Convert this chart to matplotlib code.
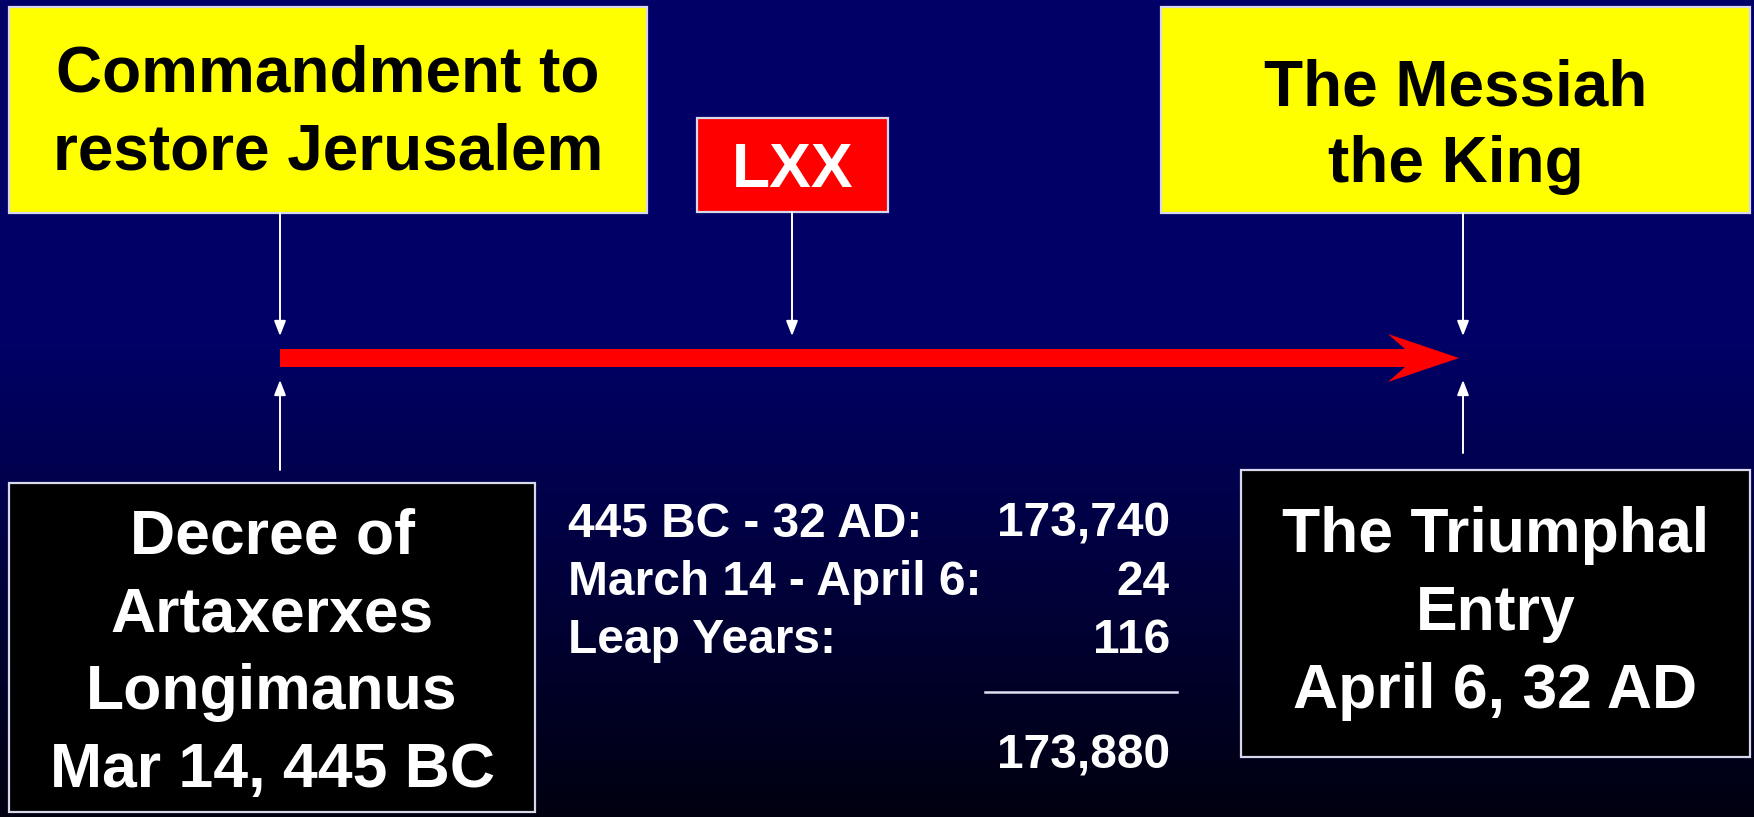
import matplotlib.pyplot as plt
import numpy as np
from matplotlib.patches import Rectangle, Polygon

# slide text
top_left_lines = ['Commandment to', 'restore Jerusalem']
top_mid_lines = ['LXX']
top_right_lines = ['The Messiah', 'the King']
bottom_left_lines = ['Decree of', 'Artaxerxes', 'Longimanus', 'Mar 14, 445 BC']
bottom_right_lines = ['The Triumphal', 'Entry', 'April 6, 32 AD']

# day count table
calc_labels = ['445 BC - 32 AD:', 'March 14 - April 6:', 'Leap Years:']
calc_days = [173740, 24, 116]
total_days = 173880

W, H = 1754, 817
plt.rcParams['font.family'] = ['Liberation Sans', 'DejaVu Sans']

fig = plt.figure(figsize=(W / 100, H / 100), dpi=100)
ax = fig.add_axes([0, 0, 1, 1])
ax.set_xlim(0, W)
ax.set_ylim(H, 0)
ax.axis('off')

# navy background fading to near black at the bottom
t = np.linspace(0, 1, H)
blue = np.where(t < 0.42, 102, 102 - (t - 0.42) / 0.58 * 86) / 255.0
bg = np.zeros((H, 1, 3))
bg[:, 0, 2] = blue
ax.imshow(bg, extent=[0, W, H, 0], aspect='auto', zorder=0)


def box(x0, y0, x1, y1, fc, tc, lines, base0, step, fs=45):
    ax.add_patch(Rectangle((x0, y0), x1 - x0, y1 - y0, facecolor=fc,
                           edgecolor='#d8d8ec', lw=1.6, zorder=2))
    for i, s in enumerate(lines):
        ax.text((x0 + x1) / 2, base0 + i * step, s, ha='center', va='baseline',
                color=tc, fontsize=fs, fontweight='bold', zorder=3)


def thin_arrow(x, y_from, y_to):
    ax.annotate('', xy=(x, y_to), xytext=(x, y_from),
                arrowprops=dict(arrowstyle='-|>,head_length=0.9,head_width=0.35',
                                color='white', lw=1.4, shrinkA=0, shrinkB=0),
                zorder=3)


box(9, 7, 647, 213, '#ffff00', 'black', top_left_lines, 91, 78, fs=46)
box(697, 118, 888, 212, '#ff0000', 'white', top_mid_lines, 187, 0)
box(1161, 7, 1750, 213, '#ffff00', 'black', top_right_lines, 105, 77, fs=46)
box(9, 483, 535, 812, 'black', 'white', bottom_left_lines, 553, 78)
box(1241, 470, 1750, 757, 'black', 'white', bottom_right_lines, 552, 78)

# timeline arrow
x_start, x_tip, y_mid, half = 280, 1459, 358, 9
poly = [(x_start, y_mid - half), (x_tip - 54, y_mid - half), (x_tip - 71, y_mid - 24),
        (x_tip, y_mid), (x_tip - 71, y_mid + 24), (x_tip - 54, y_mid + half),
        (x_start, y_mid + half)]
ax.add_patch(Polygon(poly, closed=True, facecolor='#ff0000', edgecolor='none', zorder=2))

# pointers into the timeline
thin_arrow(280, 213, 336)
thin_arrow(792, 212, 336)
thin_arrow(1463, 213, 336)
thin_arrow(280, 470, 380)
thin_arrow(1463, 453, 380)

# the sum
for i, (lab, d) in enumerate(zip(calc_labels, calc_days)):
    y = 537 + i * 58
    ax.text(568, y, lab, ha='left', va='baseline', color='white', fontsize=34.5,
            fontweight='bold', zorder=3)
    ax.text(1170, y, f'{d:,}', ha='right', va='baseline', color='white', fontsize=34.5,
            fontweight='bold', zorder=3)
ax.plot([985, 1177], [692, 692], color='#e0e0f0', lw=1.8, zorder=3)
ax.text(1170, 768, f'{total_days:,}', ha='right', va='baseline', color='white',
        fontsize=34.5, fontweight='bold', zorder=3)

fig.savefig('out.png', dpi=100)
